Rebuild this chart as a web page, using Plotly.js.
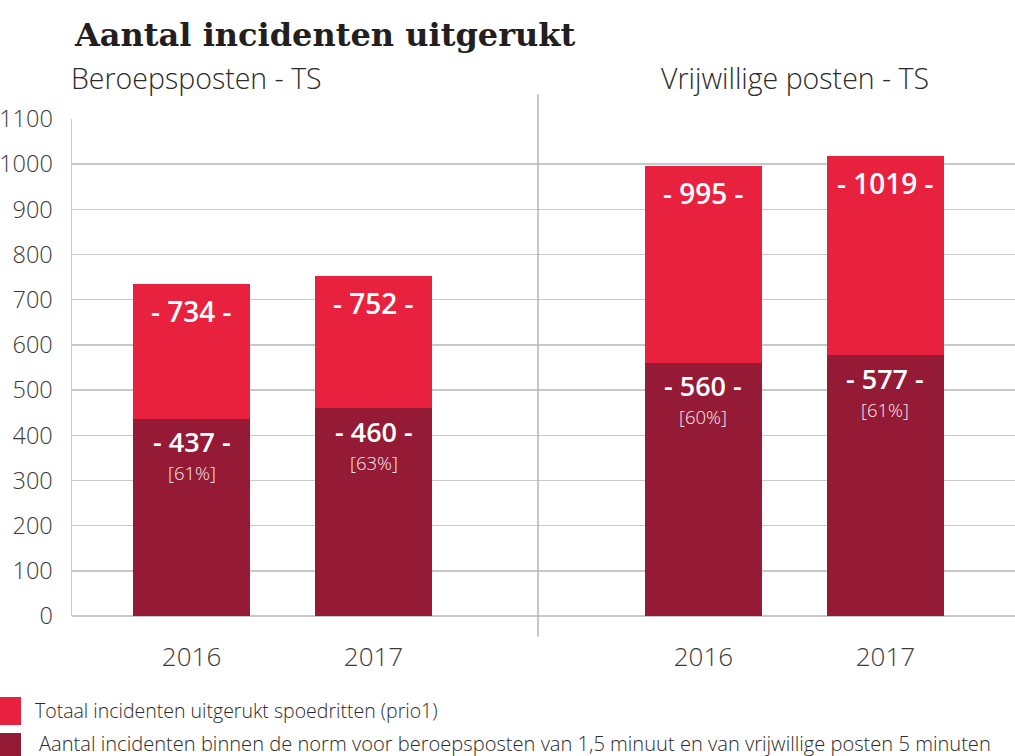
<!DOCTYPE html>
<html>
<head>
<meta charset="utf-8">
<script src="https://cdn.plot.ly/plotly-3.0.1.min.js"></script>
<style>html,body{margin:0;padding:0;background:#fff;}#chart{width:1015px;height:756px;}</style>
</head>
<body>
<div id="chart"></div>
<script>
// ---- data ----
const years = ['2016', '2017'];
const beroepsTotaal = [734, 752];
const beroepsNorm = [437, 460];
const beroepsPct = ['61%', '63%'];
const vrijwTotaal = [995, 1019];
const vrijwNorm = [560, 577];
const vrijwPct = ['60%', '61%'];
const yTicks = [0, 100, 200, 300, 400, 500, 600, 700, 800, 900, 1000, 1100];
const groupTitles = ['Beroepsposten - TS', 'Vrijwillige posten - TS'];
const legendLabels = [
  'Totaal incidenten uitgerukt spoedritten (prio1)',
  'Aantal incidenten binnen de norm voor beroepsposten van 1,5 minuut en van vrijwillige posten 5 minuten'
];
const chartTitle = 'Aantal incidenten uitgerukt';

// ---- styles ----
const RED = '#E8223E';
const DARK = '#941A35';
const GRID = '#c8c8c8';
const TXT = '#3a3a3a';
const FONT = 'Open Sans, Noto Sans, sans-serif';
const BARW = 0.643;

function bars(xa, tot, norm) {
  return [
    {type: 'bar', x: years, y: tot, xaxis: xa, yaxis: 'y', width: BARW,
     marker: {color: RED, line: {width: 0}}, hoverinfo: 'skip', showlegend: false},
    {type: 'bar', x: years, y: norm, xaxis: xa, yaxis: 'y', width: BARW,
     marker: {color: DARK, line: {width: 0}}, hoverinfo: 'skip', showlegend: false}
  ];
}

const traces = [].concat(bars('x', beroepsTotaal, beroepsNorm), bars('x2', vrijwTotaal, vrijwNorm));

const annotations = [];
function labels(xa, tot, norm, pct) {
  years.forEach((yr, i) => {
    // category axes: annotation x is the category index
    annotations.push({xref: xa, yref: 'y', x: i, y: tot[i], text: '- ' + tot[i] + ' -',
      showarrow: false, yanchor: 'middle', yshift: -27,
      font: {family: FONT, size: 28, color: '#ffffff', weight: 600}});
    annotations.push({xref: xa, yref: 'y', x: i, y: norm[i], text: '- ' + norm[i] + ' -',
      showarrow: false, yanchor: 'middle', yshift: -23,
      font: {family: FONT, size: 27, color: '#ffffff', weight: 600}});
    annotations.push({xref: xa, yref: 'y', x: i, y: norm[i], text: '[' + pct[i] + ']',
      showarrow: false, yanchor: 'middle', yshift: -54,
      font: {family: FONT, size: 18.5, color: '#f7eaee', weight: 300}});
  });
}
labels('x', beroepsTotaal, beroepsNorm, beroepsPct);
labels('x2', vrijwTotaal, vrijwNorm, vrijwPct);

// group subtitles
annotations.push({xref: 'paper', yref: 'paper', x: -0.003, y: 1.0825, xanchor: 'left', yanchor: 'middle',
  text: groupTitles[0], showarrow: false, font: {family: FONT, size: 28.5, color: '#2b2b2b', weight: 300}});
annotations.push({xref: 'paper', yref: 'paper', x: 0.6225, y: 1.0825, xanchor: 'left', yanchor: 'middle',
  text: groupTitles[1], showarrow: false, font: {family: FONT, size: 28.5, color: '#2b2b2b', weight: 300}});

// custom legend
annotations.push({xref: 'paper', yref: 'paper', x: -0.0414, y: -0.1911, xanchor: 'left', yanchor: 'middle',
  text: legendLabels[0], showarrow: false, font: {family: FONT, size: 19.5, color: '#2b2b2b', weight: 300}});
annotations.push({xref: 'paper', yref: 'paper', x: -0.0371, y: -0.2575, xanchor: 'left', yanchor: 'middle',
  text: legendLabels[1], showarrow: false, font: {family: FONT, size: 20.1, color: '#2b2b2b', weight: 300}});

const shapes = [
  {type: 'line', xref: 'paper', yref: 'paper', x0: 0.4942, x1: 0.4942, y0: -0.042, y1: 1.05,
   line: {color: '#b4b4b4', width: 1.5}, layer: 'above'},
  {type: 'rect', xref: 'paper', yref: 'paper', x0: -0.0764, x1: -0.0541, y0: -0.163, y1: -0.2193,
   fillcolor: RED, line: {width: 0}},
  {type: 'rect', xref: 'paper', yref: 'paper', x0: -0.0764, x1: -0.0541, y0: -0.2354, y1: -0.2817,
   fillcolor: DARK, line: {width: 0}}
];

const xCommon = {type: 'category', showgrid: false, zeroline: false, showline: false, ticks: '',
  tickfont: {family: FONT, size: 26, color: TXT, weight: 300}, ticklabelstandoff: 23, fixedrange: true, anchor: 'y'};

const layout = {
  width: 1015, height: 756,
  margin: {l: 72, r: 0, t: 119, b: 140, pad: 0},
  paper_bgcolor: '#ffffff', plot_bgcolor: '#ffffff',
  barmode: 'overlay', bargap: 0,
  title: {text: '<b>' + chartTitle + '</b>', x: 75 / 1015, xanchor: 'left', xref: 'container',
    y: 1 - 35 / 756, yanchor: 'middle', yref: 'container',
    font: {family: 'DejaVu Serif, serif', size: 32, color: '#231f20'}},
  xaxis: Object.assign({}, xCommon, {domain: [0, 0.4942], range: [-0.657, 1.904]}),
  xaxis2: Object.assign({}, xCommon, {domain: [0.4942, 1], range: [-0.909, 1.712]}),
  yaxis: {range: [0, 1100], tickvals: yTicks, ticktext: yTicks.map(String),
    showgrid: true, gridcolor: GRID, gridwidth: 1.5,
    zeroline: true, zerolinecolor: GRID, zerolinewidth: 1.5,
    showline: true, linecolor: GRID, linewidth: 1.5, ticks: '',
    tickfont: {family: FONT, size: 23.5, color: TXT, weight: 300}, ticklabelstandoff: 13, fixedrange: true},
  annotations: annotations,
  shapes: shapes,
  showlegend: false
};

Plotly.newPlot('chart', traces, layout, {staticPlot: true, displayModeBar: false});
</script>
</body>
</html>
